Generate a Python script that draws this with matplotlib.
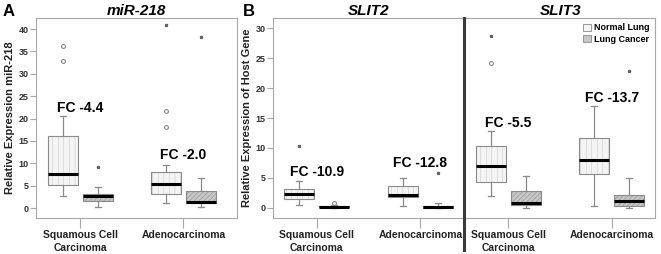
import matplotlib
matplotlib.use('Agg')
import matplotlib.pyplot as plt
from matplotlib.patches import Patch
from matplotlib.lines import Line2D

plt.rcParams['font.family'] = ['Liberation Sans', 'DejaVu Sans']

# #### DATA ####
groups = ['Squamous Cell\nCarcinoma', 'Adenocarcinoma']
# five-number summaries per group: (whisker low, q1, median, q3, whisker high)
mir218_normal = [(2.7, 5.1, 7.7, 16.0, 20.5), (1.1, 3.1, 5.4, 8.0, 9.7)]
mir218_cancer = [(0.3, 1.55, 2.7, 3.05, 4.8), (0.2, 1.1, 1.4, 3.8, 6.8)]
slit2_normal = [(0.45, 1.45, 2.3, 3.1, 4.55), (0.33, 1.9, 2.15, 3.65, 4.95)]
slit2_cancer = [(0.0, 0.12, 0.22, 0.35, 0.55), (0.0, 0.08, 0.22, 0.35, 0.8)]
slit3_normal = [(2.0, 4.3, 6.95, 10.3, 12.8), (0.33, 5.6, 8.05, 11.7, 17.05)]
slit3_cancer = [(0.0, 0.45, 0.9, 2.8, 5.4), (0.0, 0.4, 1.15, 2.2, 4.95)]
# outliers (circles) and extremes (small stars)
mir218_normal_out = [[36.2, 32.8], [21.6, 18.1]]
mir218_normal_ext = [[], [40.8]]
mir218_cancer_out = [[], []]
mir218_cancer_ext = [[9.1], [38.2]]
slit2_normal_out = [[], []]
slit2_normal_ext = [[10.4], []]
slit2_cancer_out = [[0.8], []]
slit2_cancer_ext = [[], [5.8]]
slit3_normal_out = [[24.2], []]
slit3_normal_ext = [[28.7], []]
slit3_cancer_out = [[], []]
slit3_cancer_ext = [[], [22.9]]
fold_changes = {'miR-218': ['FC -4.4', 'FC -2.0'],
                'SLIT2': ['FC -10.9', 'FC -12.8'],
                'SLIT3': ['FC -5.5', 'FC -13.7']}
fc_label_y = {'miR-218': [22.3, 11.8], 'SLIT2': [6.0, 7.5], 'SLIT3': [14.1, 18.3]}

GRAY = '#8a8a8a'
FRAME = '#a8a8a8'
W, H = 661, 254


def make_stats(summary, outliers):
    stats = []
    for (lo, q1, med, q3, hi), fl in zip(summary, outliers):
        stats.append({'whislo': lo, 'q1': q1, 'med': med, 'q3': q3, 'whishi': hi, 'fliers': fl})
    return stats


def draw_panel(ax, name, normal, cancer, normal_out, cancer_out, normal_ext, cancer_ext):
    for summary, outl, ext, off, face, hatch, hlw in [
            (normal, normal_out, normal_ext, -0.17, '#f4f4f4', '|||', 0.15),
            (cancer, cancer_out, cancer_ext, 0.17, '#c6c6c6', '///////', 0.35)]:
        # hatch linewidth is read when the patch is made
        plt.rcParams['hatch.linewidth'] = hlw
        pos = [i + off for i in range(len(groups))]
        ax.bxp(make_stats(summary, outl), positions=pos, widths=0.29, patch_artist=True,
               boxprops=dict(facecolor=face, edgecolor=GRAY, linewidth=0.8, hatch=hatch),
               whiskerprops=dict(color=GRAY, linewidth=0.9),
               capprops=dict(color=GRAY, linewidth=0.9),
               medianprops=dict(color='black', linewidth=2.2),
               flierprops=dict(marker='o', markersize=2.8, markerfacecolor='none',
                               markeredgecolor=GRAY, markeredgewidth=0.8),
               capwidths=0.06, manage_ticks=False)
        for p, e in zip(pos, ext):
            ax.plot([p] * len(e), e, linestyle='none', marker='*', markersize=2.2, color='#666666')

    for i, (lbl, y) in enumerate(zip(fold_changes[name], fc_label_y[name])):
        ax.text(i, y, lbl, ha='center', va='center', fontsize=10, fontweight='bold')

    ax.set_title(name, fontsize=11, fontweight='bold', fontstyle='italic', pad=1.5)
    ax.set_xticks(range(len(groups)))
    ax.set_xticklabels(groups, fontsize=7.5, fontweight='bold', linespacing=1.35, color='#222222')
    ax.tick_params(axis='x', length=7, color=FRAME, pad=2)
    ax.tick_params(axis='y', length=4.5, color=FRAME, labelsize=6.5, pad=1, labelcolor='#333333')
    for sp in ax.spines.values():
        sp.set_color(FRAME)
        sp.set_linewidth(0.8)


def add_axes_px(fig, left, right, top, bottom):
    return fig.add_axes([left / W, 1 - bottom / H, (right - left) / W, (bottom - top) / H])


fig = plt.figure(figsize=(W / 100, H / 100), dpi=100)

# Panel A
axA = add_axes_px(fig, 36, 237, 18, 218)
draw_panel(axA, 'miR-218', mir218_normal, mir218_cancer, mir218_normal_out, mir218_cancer_out,
           mir218_normal_ext, mir218_cancer_ext)
axA.set_ylim(-2.23, 42.46)
axA.set_yticks(range(0, 41, 5))
axA.set_ylabel('Relative Expression miR-218', fontsize=8, fontweight='bold', labelpad=2,
               color='#222222')
axA.set_xlim(-0.43, 1.52)

# Panel B - SLIT2
axB = add_axes_px(fig, 273, 464, 18, 218)
draw_panel(axB, 'SLIT2', slit2_normal, slit2_cancer, slit2_normal_out, slit2_cancer_out,
           slit2_normal_ext, slit2_cancer_ext)
axB.set_ylim(-1.67, 31.67)
axB.set_yticks(range(0, 31, 5))
axB.set_ylabel('Relative Expression of Host Gene', fontsize=8, fontweight='bold', labelpad=2,
               color='#222222')
axB.set_xlim(-0.42, 1.42)

# Panel B - SLIT3
axC = add_axes_px(fig, 466, 655, 18, 218)
draw_panel(axC, 'SLIT3', slit3_normal, slit3_cancer, slit3_normal_out, slit3_cancer_out,
           slit3_normal_ext, slit3_cancer_ext)
axC.set_ylim(-1.67, 31.67)
axC.set_xlim(-0.41, 1.42)
axC.set_yticks([])
axC.spines['left'].set_visible(False)

for ax in (axA, axB):
    for lab in ax.get_yticklabels():
        lab.set_fontweight('bold')

handles = [Patch(facecolor='#f4f4f4', edgecolor=GRAY, linewidth=0.6, label='Normal Lung'),
           Patch(facecolor='#c6c6c6', edgecolor=GRAY, linewidth=0.6, label='Lung Cancer')]
axC.legend(handles=handles, loc='upper right', frameon=False, handlelength=0.9, handleheight=0.9,
           handletextpad=0.3, labelspacing=0.25, borderaxespad=0.2,
           prop={'size': 6.5, 'weight': 'bold'})

# divider between SLIT2 and SLIT3
fig.add_artist(Line2D([464 / W, 464 / W], [1 - 18 / H, 1 - 250 / H], transform=fig.transFigure,
                      color='#3a3a3a', linewidth=2.2))

fig.text(3 / W, 1 - 11 / H, 'A', fontsize=12, fontweight='bold', va='center', ha='left')
fig.text(243 / W, 1 - 11 / H, 'B', fontsize=12, fontweight='bold', va='center', ha='left')

fig.savefig('out.png', dpi=100)
